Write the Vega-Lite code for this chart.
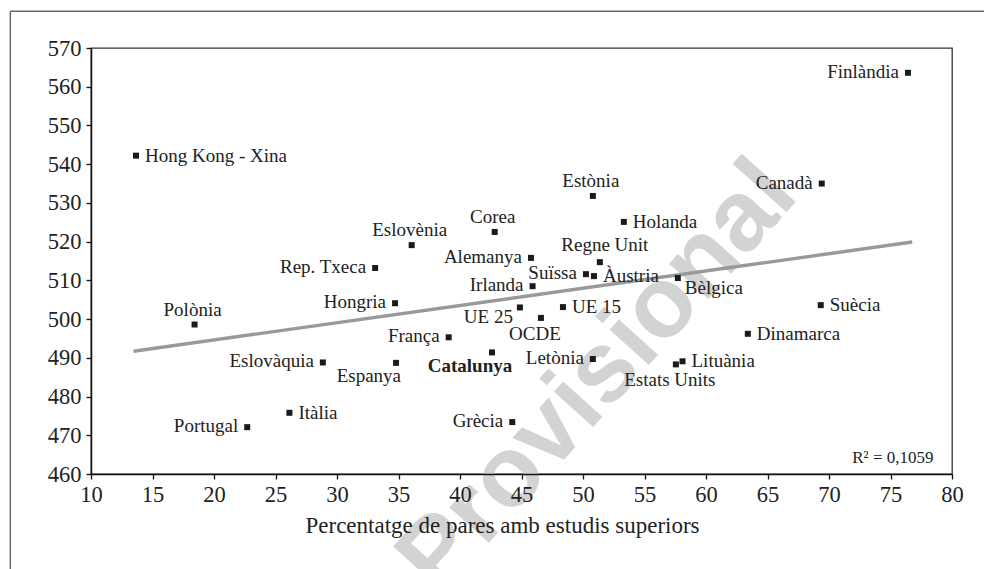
{
  "$schema": "https://vega.github.io/schema/vega-lite/v6.json",
  "autosize": "none",
  "width": 861,
  "height": 426,
  "padding": {"left": 91, "top": 48, "right": 32, "bottom": 95},
  "background": "white",
  "config": {
    "view": {"stroke": "#333333", "strokeWidth": 1.3},
    "font": "Liberation Serif",
    "axis": {
      "grid": false,
      "domainColor": "#111111",
      "domainWidth": 1.5,
      "tickColor": "#111111",
      "tickWidth": 1.3,
      "tickSize": 5,
      "labelOverlap": false,
      "labelFont": "Liberation Serif",
      "labelFontSize": 22.5,
      "labelColor": "#222222",
      "titleFont": "Liberation Serif",
      "titleFontWeight": "normal",
      "titleColor": "#222222"
    }
  },
  "data": {
    "values": [
      {"pais": "Hong Kong - Xina", "pares": 13.66, "puntuacio": 542.2},
      {"pais": "Polònia", "pares": 18.42, "puntuacio": 498.6},
      {"pais": "Eslovàquia", "pares": 28.85, "puntuacio": 488.8},
      {"pais": "Portugal", "pares": 22.7, "puntuacio": 472.1},
      {"pais": "Itàlia", "pares": 26.13, "puntuacio": 475.8},
      {"pais": "Eslovènia", "pares": 36.07, "puntuacio": 519.1},
      {"pais": "Corea", "pares": 42.82, "puntuacio": 522.5},
      {"pais": "Rep. Txeca", "pares": 33.1, "puntuacio": 513.2},
      {"pais": "Alemanya", "pares": 45.77, "puntuacio": 515.8},
      {"pais": "Estònia", "pares": 50.8, "puntuacio": 531.8},
      {"pais": "Holanda", "pares": 53.32, "puntuacio": 525.1},
      {"pais": "Regne Unit", "pares": 51.37, "puntuacio": 514.7},
      {"pais": "Suïssa", "pares": 50.24, "puntuacio": 511.6},
      {"pais": "Àustria", "pares": 50.89, "puntuacio": 511.1},
      {"pais": "Irlanda", "pares": 45.9, "puntuacio": 508.5},
      {"pais": "Hongria", "pares": 34.72, "puntuacio": 504.1},
      {"pais": "UE 25", "pares": 44.87, "puntuacio": 503.0},
      {"pais": "OCDE", "pares": 46.58, "puntuacio": 500.3},
      {"pais": "UE 15", "pares": 48.37, "puntuacio": 503.1},
      {"pais": "França", "pares": 39.08, "puntuacio": 495.3},
      {"pais": "Catalunya", "pares": 42.6, "puntuacio": 491.4},
      {"pais": "Espanya", "pares": 34.8, "puntuacio": 488.7},
      {"pais": "Letònia", "pares": 50.8, "puntuacio": 489.7},
      {"pais": "Grècia", "pares": 44.25, "puntuacio": 473.4},
      {"pais": "Finlàndia", "pares": 76.42, "puntuacio": 563.6},
      {"pais": "Canadà", "pares": 69.41, "puntuacio": 535.0},
      {"pais": "Bèlgica", "pares": 57.71, "puntuacio": 510.6},
      {"pais": "Suècia", "pares": 69.33, "puntuacio": 503.6},
      {"pais": "Dinamarca", "pares": 63.4, "puntuacio": 496.2},
      {"pais": "Lituània", "pares": 58.09, "puntuacio": 489.1},
      {"pais": "Estats Units", "pares": 57.55, "puntuacio": 488.3}
    ]
  },
  "layer": [
    {
      "data": {"values": [{"w": "Provisional"}]},
      "mark": {"type": "text", "font": "Liberation Sans", "fontWeight": "bold", "fontSize": 100, "angle": -48, "color": "#d3d3d3", "align": "center", "baseline": "middle"},
      "encoding": {
        "x": {"datum": 51.2, "type": "quantitative", "scale": {"domain": [10, 80], "nice": false, "zero": false}, "axis": {"values": [10, 15, 20, 25, 30, 35, 40, 45, 50, 55, 60, 65, 70, 75, 80], "zindex": 1, "labelOverlap": false, "labelFlush": false, "labelPadding": 4, "title": "Percentatge de pares amb estudis superiors", "titleFontSize": 23, "titleX": 411, "titleY": 58, "titleAnchor": null, "titleAlign": "center", "titleBaseline": "alphabetic"}},
        "y": {"datum": 485.0, "type": "quantitative", "scale": {"domain": [460, 570], "nice": false, "zero": false}, "axis": {"values": [460, 470, 480, 490, 500, 510, 520, 530, 540, 550, 560, 570], "zindex": 1, "labelOverlap": false, "labelFlush": false, "labelPadding": 5, "title": null}},
        "text": {"field": "w"}
      }
    },
    {
      "data": {"values": [{"f": 1}]},
      "mark": {"type": "rule", "color": "#6a6a6a", "strokeWidth": 1.5},
      "encoding": {
        "x": {"datum": 3.44, "type": "quantitative", "scale": {"domain": [10, 80], "nice": false, "zero": false}, "axis": {"values": [10, 15, 20, 25, 30, 35, 40, 45, 50, 55, 60, 65, 70, 75, 80], "zindex": 1, "labelOverlap": false, "labelFlush": false, "labelPadding": 4, "title": "Percentatge de pares amb estudis superiors", "titleFontSize": 23, "titleX": 411, "titleY": 58, "titleAnchor": null, "titleAlign": "center", "titleBaseline": "alphabetic"}},
        "y": {"datum": 579.5, "type": "quantitative", "scale": {"domain": [460, 570], "nice": false, "zero": false}, "axis": {"values": [460, 470, 480, 490, 500, 510, 520, 530, 540, 550, 560, 570], "zindex": 1, "labelOverlap": false, "labelFlush": false, "labelPadding": 5, "title": null}},
        "y2": {"datum": 430}
      }
    },
    {
      "data": {"values": [{"f": 1}]},
      "mark": {"type": "rule", "color": "#6a6a6a", "strokeWidth": 1.5},
      "encoding": {
        "x": {"datum": 3.44, "type": "quantitative", "scale": {"domain": [10, 80], "nice": false, "zero": false}, "axis": {"values": [10, 15, 20, 25, 30, 35, 40, 45, 50, 55, 60, 65, 70, 75, 80], "zindex": 1, "labelOverlap": false, "labelFlush": false, "labelPadding": 4, "title": "Percentatge de pares amb estudis superiors", "titleFontSize": 23, "titleX": 411, "titleY": 58, "titleAnchor": null, "titleAlign": "center", "titleBaseline": "alphabetic"}},
        "x2": {"datum": 84},
        "y": {"datum": 579.5, "type": "quantitative", "scale": {"domain": [460, 570], "nice": false, "zero": false}, "axis": {"values": [460, 470, 480, 490, 500, 510, 520, 530, 540, 550, 560, 570], "zindex": 1, "labelOverlap": false, "labelFlush": false, "labelPadding": 5, "title": null}}
      }
    },
    {
      "data": {"values": [{"pares": 13.46, "puntuacio": 491.7}, {"pares": 76.77, "puntuacio": 519.9}]},
      "mark": {"type": "line", "color": "#999999", "strokeWidth": 3.4},
      "encoding": {
        "x": {"field": "pares", "type": "quantitative", "scale": {"domain": [10, 80], "nice": false, "zero": false}, "axis": {"values": [10, 15, 20, 25, 30, 35, 40, 45, 50, 55, 60, 65, 70, 75, 80], "zindex": 1, "labelOverlap": false, "labelFlush": false, "labelPadding": 4, "title": "Percentatge de pares amb estudis superiors", "titleFontSize": 23, "titleX": 411, "titleY": 58, "titleAnchor": null, "titleAlign": "center", "titleBaseline": "alphabetic"}},
        "y": {"field": "puntuacio", "type": "quantitative", "scale": {"domain": [460, 570], "nice": false, "zero": false}, "axis": {"values": [460, 470, 480, 490, 500, 510, 520, 530, 540, 550, 560, 570], "zindex": 1, "labelOverlap": false, "labelFlush": false, "labelPadding": 5, "title": null}}
      }
    },
    {
      "mark": {"type": "square", "size": 36, "color": "#1a1a1a", "opacity": 1, "filled": true},
      "encoding": {
        "x": {"field": "pares", "type": "quantitative", "scale": {"domain": [10, 80], "nice": false, "zero": false}, "axis": {"values": [10, 15, 20, 25, 30, 35, 40, 45, 50, 55, 60, 65, 70, 75, 80], "zindex": 1, "labelOverlap": false, "labelFlush": false, "labelPadding": 4, "title": "Percentatge de pares amb estudis superiors", "titleFontSize": 23, "titleX": 411, "titleY": 58, "titleAnchor": null, "titleAlign": "center", "titleBaseline": "alphabetic"}},
        "y": {"field": "puntuacio", "type": "quantitative", "scale": {"domain": [460, 570], "nice": false, "zero": false}, "axis": {"values": [460, 470, 480, 490, 500, 510, 520, 530, 540, 550, 560, 570], "zindex": 1, "labelOverlap": false, "labelFlush": false, "labelPadding": 5, "title": null}}
      }
    },
    {
      "transform": [{"filter": {"field": "pais", "oneOf": ["Hong Kong - Xina", "Holanda", "Àustria", "UE 15", "Suècia", "Dinamarca", "Lituània", "Itàlia"]}}],
      "mark": {"type": "text", "fontSize": 19, "color": "#222222", "align": "left", "baseline": "alphabetic", "dx": 9, "dy": 6},
      "encoding": {
        "x": {"field": "pares", "type": "quantitative", "scale": {"domain": [10, 80], "nice": false, "zero": false}, "axis": {"values": [10, 15, 20, 25, 30, 35, 40, 45, 50, 55, 60, 65, 70, 75, 80], "zindex": 1, "labelOverlap": false, "labelFlush": false, "labelPadding": 4, "title": "Percentatge de pares amb estudis superiors", "titleFontSize": 23, "titleX": 411, "titleY": 58, "titleAnchor": null, "titleAlign": "center", "titleBaseline": "alphabetic"}},
        "y": {"field": "puntuacio", "type": "quantitative", "scale": {"domain": [460, 570], "nice": false, "zero": false}, "axis": {"values": [460, 470, 480, 490, 500, 510, 520, 530, 540, 550, 560, 570], "zindex": 1, "labelOverlap": false, "labelFlush": false, "labelPadding": 5, "title": null}},
        "text": {"field": "pais"}
      }
    },
    {
      "transform": [{"filter": {"field": "pais", "oneOf": ["Finlàndia", "Canadà", "Rep. Txeca", "Hongria", "Alemanya", "Irlanda", "França", "Eslovàquia", "Portugal", "Grècia", "Letònia", "Suïssa"]}}],
      "mark": {"type": "text", "fontSize": 19, "color": "#222222", "align": "right", "baseline": "alphabetic", "dx": -9, "dy": 5},
      "encoding": {
        "x": {"field": "pares", "type": "quantitative", "scale": {"domain": [10, 80], "nice": false, "zero": false}, "axis": {"values": [10, 15, 20, 25, 30, 35, 40, 45, 50, 55, 60, 65, 70, 75, 80], "zindex": 1, "labelOverlap": false, "labelFlush": false, "labelPadding": 4, "title": "Percentatge de pares amb estudis superiors", "titleFontSize": 23, "titleX": 411, "titleY": 58, "titleAnchor": null, "titleAlign": "center", "titleBaseline": "alphabetic"}},
        "y": {"field": "puntuacio", "type": "quantitative", "scale": {"domain": [460, 570], "nice": false, "zero": false}, "axis": {"values": [460, 470, 480, 490, 500, 510, 520, 530, 540, 550, 560, 570], "zindex": 1, "labelOverlap": false, "labelFlush": false, "labelPadding": 5, "title": null}},
        "text": {"field": "pais"}
      }
    },
    {
      "transform": [{"filter": {"field": "pais", "oneOf": ["Polònia", "Eslovènia", "Corea", "Estònia"]}}],
      "mark": {"type": "text", "fontSize": 19, "color": "#222222", "align": "center", "baseline": "alphabetic", "dx": -2, "dy": -9},
      "encoding": {
        "x": {"field": "pares", "type": "quantitative", "scale": {"domain": [10, 80], "nice": false, "zero": false}, "axis": {"values": [10, 15, 20, 25, 30, 35, 40, 45, 50, 55, 60, 65, 70, 75, 80], "zindex": 1, "labelOverlap": false, "labelFlush": false, "labelPadding": 4, "title": "Percentatge de pares amb estudis superiors", "titleFontSize": 23, "titleX": 411, "titleY": 58, "titleAnchor": null, "titleAlign": "center", "titleBaseline": "alphabetic"}},
        "y": {"field": "puntuacio", "type": "quantitative", "scale": {"domain": [460, 570], "nice": false, "zero": false}, "axis": {"values": [460, 470, 480, 490, 500, 510, 520, 530, 540, 550, 560, 570], "zindex": 1, "labelOverlap": false, "labelFlush": false, "labelPadding": 5, "title": null}},
        "text": {"field": "pais"}
      }
    },
    {
      "transform": [{"filter": {"field": "pais", "equal": "Regne Unit"}}],
      "mark": {"type": "text", "fontSize": 19, "color": "#222222", "align": "center", "baseline": "alphabetic", "dx": 5, "dy": -11},
      "encoding": {
        "x": {"field": "pares", "type": "quantitative", "scale": {"domain": [10, 80], "nice": false, "zero": false}, "axis": {"values": [10, 15, 20, 25, 30, 35, 40, 45, 50, 55, 60, 65, 70, 75, 80], "zindex": 1, "labelOverlap": false, "labelFlush": false, "labelPadding": 4, "title": "Percentatge de pares amb estudis superiors", "titleFontSize": 23, "titleX": 411, "titleY": 58, "titleAnchor": null, "titleAlign": "center", "titleBaseline": "alphabetic"}},
        "y": {"field": "puntuacio", "type": "quantitative", "scale": {"domain": [460, 570], "nice": false, "zero": false}, "axis": {"values": [460, 470, 480, 490, 500, 510, 520, 530, 540, 550, 560, 570], "zindex": 1, "labelOverlap": false, "labelFlush": false, "labelPadding": 5, "title": null}},
        "text": {"field": "pais"}
      }
    },
    {
      "transform": [{"filter": {"field": "pais", "equal": "Espanya"}}],
      "mark": {"type": "text", "fontSize": 19, "color": "#222222", "align": "right", "baseline": "alphabetic", "dx": 5, "dy": 19},
      "encoding": {
        "x": {"field": "pares", "type": "quantitative", "scale": {"domain": [10, 80], "nice": false, "zero": false}, "axis": {"values": [10, 15, 20, 25, 30, 35, 40, 45, 50, 55, 60, 65, 70, 75, 80], "zindex": 1, "labelOverlap": false, "labelFlush": false, "labelPadding": 4, "title": "Percentatge de pares amb estudis superiors", "titleFontSize": 23, "titleX": 411, "titleY": 58, "titleAnchor": null, "titleAlign": "center", "titleBaseline": "alphabetic"}},
        "y": {"field": "puntuacio", "type": "quantitative", "scale": {"domain": [460, 570], "nice": false, "zero": false}, "axis": {"values": [460, 470, 480, 490, 500, 510, 520, 530, 540, 550, 560, 570], "zindex": 1, "labelOverlap": false, "labelFlush": false, "labelPadding": 5, "title": null}},
        "text": {"field": "pais"}
      }
    },
    {
      "transform": [{"filter": {"field": "pais", "equal": "UE 25"}}],
      "mark": {"type": "text", "fontSize": 19, "color": "#222222", "align": "right", "baseline": "alphabetic", "dx": -7, "dy": 16},
      "encoding": {
        "x": {"field": "pares", "type": "quantitative", "scale": {"domain": [10, 80], "nice": false, "zero": false}, "axis": {"values": [10, 15, 20, 25, 30, 35, 40, 45, 50, 55, 60, 65, 70, 75, 80], "zindex": 1, "labelOverlap": false, "labelFlush": false, "labelPadding": 4, "title": "Percentatge de pares amb estudis superiors", "titleFontSize": 23, "titleX": 411, "titleY": 58, "titleAnchor": null, "titleAlign": "center", "titleBaseline": "alphabetic"}},
        "y": {"field": "puntuacio", "type": "quantitative", "scale": {"domain": [460, 570], "nice": false, "zero": false}, "axis": {"values": [460, 470, 480, 490, 500, 510, 520, 530, 540, 550, 560, 570], "zindex": 1, "labelOverlap": false, "labelFlush": false, "labelPadding": 5, "title": null}},
        "text": {"field": "pais"}
      }
    },
    {
      "transform": [{"filter": {"field": "pais", "oneOf": ["OCDE", "Estats Units"]}}],
      "mark": {"type": "text", "fontSize": 19, "color": "#222222", "align": "center", "baseline": "alphabetic", "dx": -6, "dy": 22},
      "encoding": {
        "x": {"field": "pares", "type": "quantitative", "scale": {"domain": [10, 80], "nice": false, "zero": false}, "axis": {"values": [10, 15, 20, 25, 30, 35, 40, 45, 50, 55, 60, 65, 70, 75, 80], "zindex": 1, "labelOverlap": false, "labelFlush": false, "labelPadding": 4, "title": "Percentatge de pares amb estudis superiors", "titleFontSize": 23, "titleX": 411, "titleY": 58, "titleAnchor": null, "titleAlign": "center", "titleBaseline": "alphabetic"}},
        "y": {"field": "puntuacio", "type": "quantitative", "scale": {"domain": [460, 570], "nice": false, "zero": false}, "axis": {"values": [460, 470, 480, 490, 500, 510, 520, 530, 540, 550, 560, 570], "zindex": 1, "labelOverlap": false, "labelFlush": false, "labelPadding": 5, "title": null}},
        "text": {"field": "pais"}
      }
    },
    {
      "transform": [{"filter": {"field": "pais", "equal": "Bèlgica"}}],
      "mark": {"type": "text", "fontSize": 19, "color": "#222222", "align": "left", "baseline": "alphabetic", "dx": 7, "dy": 16},
      "encoding": {
        "x": {"field": "pares", "type": "quantitative", "scale": {"domain": [10, 80], "nice": false, "zero": false}, "axis": {"values": [10, 15, 20, 25, 30, 35, 40, 45, 50, 55, 60, 65, 70, 75, 80], "zindex": 1, "labelOverlap": false, "labelFlush": false, "labelPadding": 4, "title": "Percentatge de pares amb estudis superiors", "titleFontSize": 23, "titleX": 411, "titleY": 58, "titleAnchor": null, "titleAlign": "center", "titleBaseline": "alphabetic"}},
        "y": {"field": "puntuacio", "type": "quantitative", "scale": {"domain": [460, 570], "nice": false, "zero": false}, "axis": {"values": [460, 470, 480, 490, 500, 510, 520, 530, 540, 550, 560, 570], "zindex": 1, "labelOverlap": false, "labelFlush": false, "labelPadding": 5, "title": null}},
        "text": {"field": "pais"}
      }
    },
    {
      "transform": [{"filter": {"field": "pais", "equal": "Catalunya"}}],
      "mark": {"type": "text", "fontSize": 19, "fontWeight": "bold", "color": "#222222", "align": "center", "baseline": "alphabetic", "dx": -22, "dy": 20},
      "encoding": {
        "x": {"field": "pares", "type": "quantitative", "scale": {"domain": [10, 80], "nice": false, "zero": false}, "axis": {"values": [10, 15, 20, 25, 30, 35, 40, 45, 50, 55, 60, 65, 70, 75, 80], "zindex": 1, "labelOverlap": false, "labelFlush": false, "labelPadding": 4, "title": "Percentatge de pares amb estudis superiors", "titleFontSize": 23, "titleX": 411, "titleY": 58, "titleAnchor": null, "titleAlign": "center", "titleBaseline": "alphabetic"}},
        "y": {"field": "puntuacio", "type": "quantitative", "scale": {"domain": [460, 570], "nice": false, "zero": false}, "axis": {"values": [460, 470, 480, 490, 500, 510, 520, 530, 540, 550, 560, 570], "zindex": 1, "labelOverlap": false, "labelFlush": false, "labelPadding": 5, "title": null}},
        "text": {"field": "pais"}
      }
    },
    {
      "data": {"values": [{"r": "R² = 0,1059"}]},
      "mark": {"type": "text", "fontSize": 17, "color": "#222222", "align": "right", "baseline": "alphabetic"},
      "encoding": {
        "x": {"datum": 78.5, "type": "quantitative", "scale": {"domain": [10, 80], "nice": false, "zero": false}, "axis": {"values": [10, 15, 20, 25, 30, 35, 40, 45, 50, 55, 60, 65, 70, 75, 80], "zindex": 1, "labelOverlap": false, "labelFlush": false, "labelPadding": 4, "title": "Percentatge de pares amb estudis superiors", "titleFontSize": 23, "titleX": 411, "titleY": 58, "titleAnchor": null, "titleAlign": "center", "titleBaseline": "alphabetic"}},
        "y": {"datum": 462.9, "type": "quantitative", "scale": {"domain": [460, 570], "nice": false, "zero": false}, "axis": {"values": [460, 470, 480, 490, 500, 510, 520, 530, 540, 550, 560, 570], "zindex": 1, "labelOverlap": false, "labelFlush": false, "labelPadding": 5, "title": null}},
        "text": {"field": "r"}
      }
    }
  ]
}
